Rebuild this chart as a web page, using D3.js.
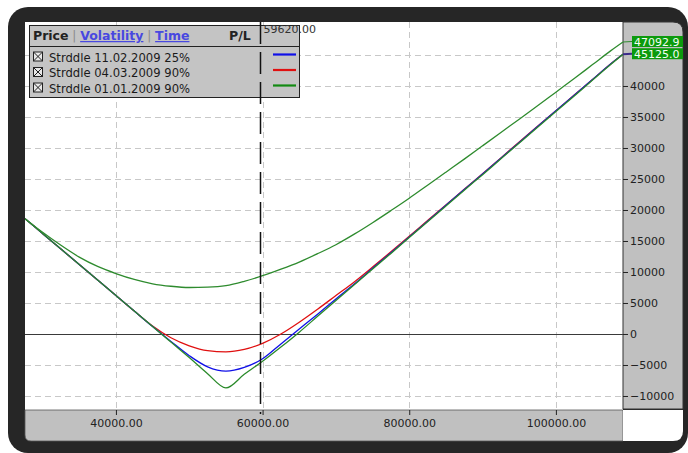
<!DOCTYPE html>
<html><head><meta charset="utf-8">
<script src="https://cdn.jsdelivr.net/npm/d3@7"></script>
<style>html,body{margin:0;padding:0;background:#fff;} svg{display:block;font-family:"DejaVu Sans",sans-serif;}</style>
</head><body><svg id="c" width="688" height="453"></svg>
<script>
// ---- data ----
const prices = [27600, 30000, 32500, 35000, 37500, 40000, 42500, 45000, 47500, 50000, 52500, 55000, 57500, 60000, 62500, 65000, 67500, 70000, 72500, 75000, 77500, 80000, 82500, 85000, 87500, 90000, 92500, 95000, 97500, 100000, 102500, 105000, 107500, 109150];
const plNear   = [18600, 16200, 13700, 11200, 8700, 6200, 3700, 1200, -1300, -3800, -6400, -8700, -6500, -4400, -2100, 300, 2850, 5400, 7950, 10500, 13000, 15550, 18100, 20650, 23200, 25700, 28250, 30800, 33350, 35900, 38400, 40950, 43500, 45100];
const plBlue   = [18600, 16200, 13700, 11200, 8700, 6200, 3700, 1200, -1200, -3500, -5300, -6000, -5400, -4000, -1600, 800, 3200, 5650, 8050, 10600, 13100, 15650, 18200, 20750, 23300, 25800, 28350, 30900, 33450, 36000, 38500, 41050, 43600, 45125];
const plRed    = [18600, 16200, 13700, 11200, 8700, 6200, 3700, 1300, -600, -1900, -2700, -2900, -2500, -1500, 0, 1900, 4000, 6200, 8400, 10800, 13250, 15750, 18300, 20800, 23350, 25850, 28400, 30950, 33500, 36000, 38550, 41050, 43600, 45125];
const plGreen  = [18600, 16400, 14300, 12400, 10900, 9750, 8800, 8100, 7700, 7500, 7550, 7800, 8500, 9400, 10450, 11600, 12950, 14400, 16100, 17950, 19900, 21900, 24000, 26100, 28200, 30350, 32500, 34650, 36800, 39000, 41200, 43450, 45700, 47093];
const xTicks = [40000, 60000, 80000, 100000];
const xTickLabels = ["40000.00", "60000.00", "80000.00", "100000.00"];
const yTicks = [-10000, -5000, 0, 5000, 10000, 15000, 20000, 25000, 30000, 35000, 40000];
const yGrid = [-10000, -5000, 5000, 10000, 15000, 20000, 25000, 30000, 35000, 40000, 45000];
const markerPrice = 59620;
const markerLabel = "59620.00";
const legendNames = ["Strddle 11.02.2009 25%", "Strddle 04.03.2009 90%", "Strddle 01.01.2009 90%"];
const legendColors = ["#1010e8", "#e01010", "#128a12"];
const endValues = [47092.9, 45125.0];
const endLabels = ["47092.9", "45125.0"];
const endColors = ["#2e8b2e", "#3a2a8a"];

// ---- layout ----
const L = 25, R = 623, T = 22, B = 410;
const svg = d3.select("#c");
svg.append("rect").attr("x", 8).attr("y", 7).attr("width", 680).attr("height", 446).attr("rx", 20).attr("fill", "#262626");
svg.append("rect").attr("x", L).attr("y", T).attr("width", R - L).attr("height", B - T).attr("fill", "#fff");
svg.append("path").attr("d", `M${R},${T} H673 Q683,${T} 683,${T+10} V409 H${R} Z`).attr("fill", "#c0c0c0").attr("stroke", "#333").attr("stroke-width", 1);
svg.append("path").attr("d", `M${L},${B} H${R} V441 H31 Q${L},441 ${L},435 Z`).attr("fill", "#c0c0c0").attr("stroke", "#555").attr("stroke-width", 0.8);
svg.append("path").attr("d", `M${R},${B} H683 V431 Q683,441 673,441 H${R} Z`).attr("fill", "#fff");

const x = d3.scaleLinear().domain([27600, 109150]).range([L, R]);
const y = d3.scaleLinear().domain([-12260, 50320]).range([B, T]);

svg.append("clipPath").attr("id", "clip").append("rect").attr("x", L).attr("y", T).attr("width", R - L).attr("height", B - T);
const plot = svg.append("g").attr("clip-path", "url(#clip)");

// grid
plot.selectAll(".hg").data(yGrid).join("line")
  .attr("x1", L).attr("x2", R).attr("y1", d => Math.round(y(d)) + 0.5).attr("y2", d => Math.round(y(d)) + 0.5)
  .attr("stroke", "#c8c8c8").attr("stroke-dasharray", "6,4");
plot.selectAll(".vg").data(xTicks).join("line")
  .attr("y1", T).attr("y2", B).attr("x1", d => Math.round(x(d)) + 0.5).attr("x2", d => Math.round(x(d)) + 0.5)
  .attr("stroke", "#c8c8c8").attr("stroke-dasharray", "6,4");
plot.append("line").attr("x1", L).attr("x2", R).attr("y1", Math.round(y(0)) + 0.5).attr("y2", Math.round(y(0)) + 0.5)
  .attr("stroke", "#3a3a3a").attr("stroke-width", 1.2);

// curves
const line = d3.line().x(d => x(d[0])).y(d => y(d[1])).curve(d3.curveMonotoneX);
const series = [
  {v: plRed, c: "#e01010"},
  {v: plBlue, c: "#1010e8"},
  {v: plNear, c: "#2a8a2a"},
  {v: plGreen, c: "#2e8b2e"}
];
series.forEach(s => {
  plot.append("path").datum(prices.map((p, i) => [p, s.v[i]]))
    .attr("d", line).attr("fill", "none").attr("stroke", s.c).attr("stroke-width", 1.3);
});

// legend
const lg = svg.append("g");
lg.append("rect").attr("x", 29.5).attr("y", 25.5).attr("width", 270).attr("height", 72).attr("fill", "#c4c4c4").attr("stroke", "#222");
lg.append("line").attr("x1", 29.5).attr("x2", 299.5).attr("y1", 46.5).attr("y2", 46.5).attr("stroke", "#222");
const ht = lg.append("text").attr("x", 33).attr("y", 40).attr("font-size", 12.5);
ht.append("tspan").attr("font-weight", "bold").attr("fill", "#222").text("Price");
ht.append("tspan").attr("fill", "#8a8a8a").attr("font-size", 12).text(" | ");
ht.append("tspan").attr("font-weight", "bold").attr("fill", "#4848e0").attr("text-decoration", "underline").text("Volatility");
ht.append("tspan").attr("fill", "#8a8a8a").attr("font-size", 12).text(" | ");
ht.append("tspan").attr("font-weight", "bold").attr("fill", "#4848e0").attr("text-decoration", "underline").text("Time");
lg.append("text").attr("x", 229).attr("y", 40).attr("font-size", 12.5).attr("font-weight", "bold").attr("fill", "#222").text("P/L");
legendNames.forEach((n, i) => {
  const by = 61.5 + i * 15.5;
  const g = lg.append("g");
  g.append("rect").attr("x", 33.5).attr("y", by - 9.5).attr("width", 9).attr("height", 9).attr("fill", "#e8e8e8").attr("stroke", "#222");
  g.append("path").attr("d", `M33.5,${by-9.5} L42.5,${by-0.5} M42.5,${by-9.5} L33.5,${by-0.5}`).attr("stroke", "#222").attr("stroke-width", 1);
  g.append("text").attr("x", 49).attr("y", by).attr("font-size", 11.6).attr("fill", "#1a1a1a").text(n);
  g.append("line").attr("x1", 273).attr("x2", 296).attr("y1", by - 7).attr("y2", by - 7).attr("stroke", legendColors[i]).attr("stroke-width", 2.2);
});

// marker
const mx = Math.round(x(markerPrice)) + 0.5;
svg.append("line").attr("x1", mx).attr("x2", mx).attr("y1", T).attr("y2", B + 4)
  .attr("stroke", "#111").attr("stroke-width", 1.5).attr("stroke-dasharray", "22,8");
svg.append("text").attr("x", mx + 3).attr("y", 33).attr("font-size", 11).attr("fill", "#333").text(markerLabel);

// axes
const ay = svg.append("g").attr("transform", `translate(${R},0)`)
  .call(d3.axisRight(y).tickValues(yTicks).tickSize(5).tickPadding(2).tickFormat(d3.format("d")));
ay.select(".domain").remove();
ay.selectAll("line").attr("stroke", "#222");
ay.selectAll("text").attr("font-size", 11).attr("fill", "#222").attr("font-family", "DejaVu Sans");
const ax = svg.append("g").attr("transform", `translate(0,${B})`)
  .call(d3.axisBottom(x).tickValues(xTicks).tickSize(5).tickPadding(4).tickFormat((d, i) => xTickLabels[i]));
ax.select(".domain").remove();
ax.selectAll("line").attr("stroke", "#222");
ax.selectAll("text").attr("font-size", 11).attr("fill", "#222").attr("font-family", "DejaVu Sans");

// end value labels
let boxTop = null;
endValues.forEach((v, i) => {
  const cy = y(v);
  let t0 = cy - 6;
  if (boxTop !== null && t0 < boxTop) t0 = boxTop;
  boxTop = t0 + 11;
  svg.append("line").attr("x1", R).attr("x2", 632).attr("y1", cy).attr("y2", t0 + 5.5).attr("stroke", endColors[i]).attr("stroke-width", i ? 2 : 1);
  svg.append("rect").attr("x", 632).attr("y", t0).attr("width", 51).attr("height", 11).attr("fill", "#0c9a0c");
  svg.append("text").attr("x", 634).attr("y", t0 + 9.5).attr("font-size", 11).attr("fill", "#f4fff4").text(endLabels[i]);
});
</script></body></html>
